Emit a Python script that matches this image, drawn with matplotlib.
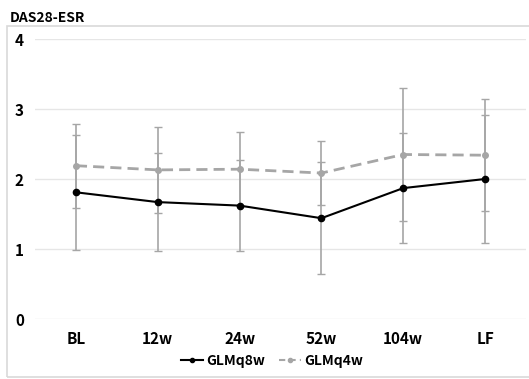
import matplotlib
matplotlib.use("Agg")
import matplotlib.pyplot as plt
from matplotlib.patches import Rectangle
from matplotlib.lines import Line2D

plt.rcParams['font.family'] = ['Noto Sans CJK JP', 'DejaVu Sans']

categories = ["BL", "12w", "24w", "52w", "104w", "LF"]
glmq8w = [1.81, 1.67, 1.62, 1.44, 1.87, 2.00]
glmq8w_err = [0.82, 0.70, 0.65, 0.80, 0.79, 0.91]
glmq4w = [2.19, 2.13, 2.14, 2.085, 2.35, 2.34]
glmq4w_err = [0.60, 0.61, 0.53, 0.46, 0.95, 0.80]
yticks = [0, 1, 2, 3, 4]

W, H = 529, 379
fig = plt.figure(figsize=(W/100, H/100), dpi=100)
ax = fig.add_axes([35/W, 1-319/H, (526-35)/W, (319-39)/H])

x = list(range(len(categories)))
errc = '#a6a6a6'
ax.errorbar(x, glmq4w, yerr=glmq4w_err, color='#a6a6a6', ls='--', lw=2.0,
            marker='o', ms=4, ecolor=errc, elinewidth=1.2, capsize=3, capthick=1,
            dashes=(4, 2.2), zorder=2)
ax.errorbar(x, glmq8w, yerr=glmq8w_err, color='black', ls='-', lw=1.5,
            marker='o', ms=4.5, ecolor=errc, elinewidth=1.2, capsize=3, capthick=1,
            zorder=3)

ax.set_xlim(-0.5, len(categories)-0.5)
ax.set_ylim(0, 4)
ax.set_yticks(yticks)
ax.set_xticks(x)
ax.set_xticklabels(categories, fontsize=11, fontweight='bold')
ax.set_yticklabels([str(v) for v in yticks], fontsize=11, fontweight='bold')
ax.tick_params(length=0, pad=8)
ax.tick_params(axis='x', pad=9)
ax.grid(axis='y', color='#e6e6e6', lw=1)
ax.set_axisbelow(True)
for s in ax.spines.values():
    s.set_visible(False)

handles = [Line2D([], [], color='black', lw=1.5, marker='o', ms=3),
           Line2D([], [], color='#a6a6a6', lw=1.5, ls='--', dashes=(3, 2), marker='o', ms=3)]
leg = fig.legend(handles, ['GLMq8w', 'GLMq4w'], loc='center',
                 bbox_to_anchor=(272/W, 1-361/H), ncol=2, frameon=False,
                 prop={'size': 10, 'weight': 'bold'}, handlelength=1.6,
                 handletextpad=0.2, columnspacing=1.0)

fig.text(10/W, 1-18/H, "DAS28-ESR", fontsize=10, fontweight='bold', va='center', ha='left')

fig.patches.append(Rectangle((7/W, 1-377/H), (W+5-7)/W, (377-26)/H,
                             transform=fig.transFigure, fill=False,
                             edgecolor='#d9d9d9', lw=1.2))

fig.savefig("out.png", dpi=100)
